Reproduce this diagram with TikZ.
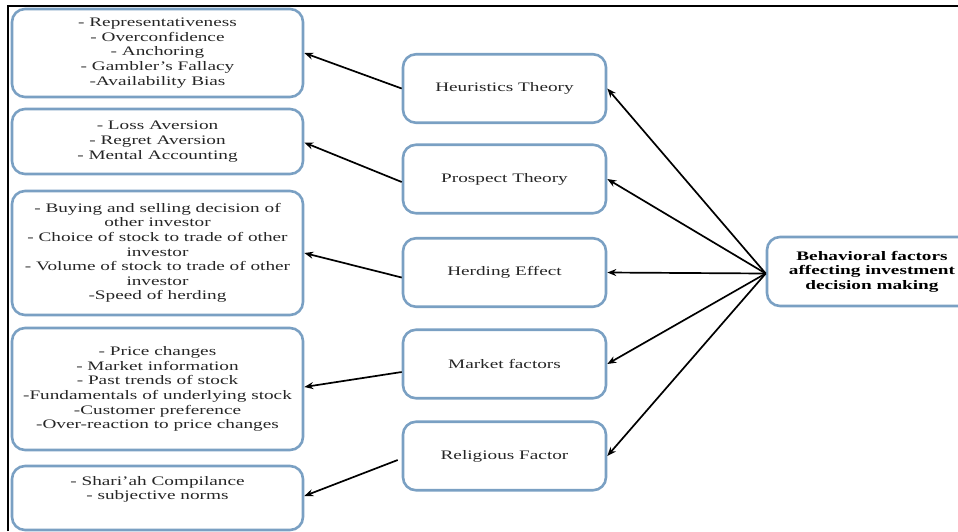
\documentclass[tikz,border=0pt]{standalone}
\usepackage{fontspec}
\setmainfont{Liberation Serif}[FakeStretch=1.48]
\usetikzlibrary{arrows.meta}
\definecolor{boxblue}{RGB}{122,160,195}
\definecolor{txtgray}{RGB}{38,38,38}
\begin{document}
\begin{tikzpicture}[x=1pt,y=-1pt,
  box/.style={draw=boxblue, line width=2.6pt, rounded corners=13pt, fill=white,
    align=center, font=\fontsize{13}{14.6}\selectfont, text=txtgray, inner sep=0pt},
  lbox/.style={box, minimum width=291pt},
  mbox/.style={box, minimum width=203pt, minimum height=68.5pt},
  plain/.style={align=center, font=\fontsize{13}{14.6}\selectfont, text=txtgray, inner sep=0pt},
  arr/.style={line width=1.7pt, -{Stealth[length=9pt,width=7pt]}}]
\useasboundingbox (0,0) rectangle (958,531);
% frame
\draw[line width=2pt] (8,531) -- (8,6) -- (958,6);
% left boxes
\node[lbox, minimum height=88pt] (b1) at (157.5,53) {- Representativeness\\- Overconfidence\\- Anchoring\\- Gambler's Fallacy\\-Availability Bias};
\node[lbox, minimum height=65pt] (b2) at (157.5,141.5) {- Loss Aversion\\- Regret Aversion\\- Mental Accounting};
\node[lbox, minimum height=124pt] (b3) at (157.5,253) {- Buying and selling decision of\\other investor\\- Choice of stock to trade of other\\investor\\- Volume of stock to trade of other\\investor\\-Speed of herding};
\node[lbox, minimum height=122pt] (b4) at (157.5,389) {- Price changes\\- Market information\\- Past trends of stock\\-Fundamentals of underlying stock\\-Customer preference\\-Over-reaction to price changes};
\node[lbox, minimum height=64pt] (b5) at (157.5,498) {};
\node[plain] (b5t) at (157.5,489.5) {- Shari’ah Compilance\\- subjective norms};
% middle boxes
\node[mbox] (m1) at (504.5,88.5) {Heuristics Theory};
\node[mbox] (m2) at (504.5,179) {Prospect Theory};
\node[mbox] (m3) at (504.5,272.5) {Herding Effect};
\node[mbox] (m4) at (504.5,364) {Market factors};
\node[mbox] (m5) at (504.5,456) {Religious Factor};
% right box
\node[box, minimum width=210pt, minimum height=69pt, text=black, font=\fontsize{13}{14.6}\selectfont\bfseries] (r) at (872,271.5) {Behavioral factors\\affecting investment\\decision making};
% arrows right
\foreach \m in {m1,m2,m3,m4,m5}
  \draw[arr] ([yshift=-2pt]r.west) -- (\m.east);
% arrows left
\draw[arr] (m1.west) -- (b1.east);
\draw[arr] ([yshift=-3pt]m2.west) -- ([yshift=-1pt]b2.east);
\draw[arr] ([yshift=-5pt]m3.west) -- (b3.east);
\draw[arr] ([yshift=-8pt]m4.west) -- ([yshift=2pt]b4.east);
\draw[arr] ([xshift=-4pt,yshift=-4pt]m5.west) -- ([yshift=2pt]b5.east);
\end{tikzpicture}
\end{document}
